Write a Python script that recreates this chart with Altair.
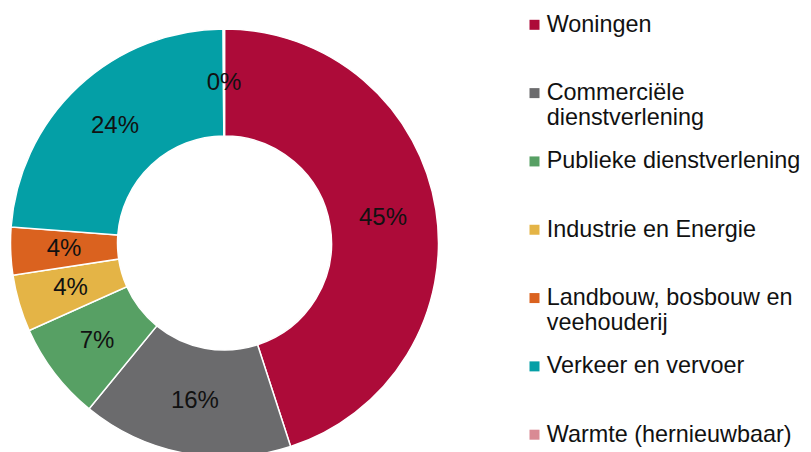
import altair as alt
import pandas as pd

categories = [
    "Woningen",
    "Commerciële dienstverlening",
    "Publieke dienstverlening",
    "Industrie en Energie",
    "Landbouw, bosbouw en veehouderij",
    "Verkeer en vervoer",
    "Warmte (hernieuwbaar)",
]
shares = [45.0, 15.9, 7.4, 4.3, 3.6, 23.7, 0.1]
colors = ["#AD0B39", "#6B6B6D", "#57A064", "#E4B446", "#DA621F", "#049FA6", "#D98A94"]
legend_line1 = [
    "Woningen",
    "Commerciële",
    "Publieke dienstverlening",
    "Industrie en Energie",
    "Landbouw, bosbouw en",
    "Verkeer en vervoer",
    "Warmte (hernieuwbaar)",
]
legend_line2 = ["", "dienstverlening", "", "", "veehouderij", "", ""]

df = pd.DataFrame({
    "cat": categories,
    "share": shares,
    "idx": list(range(len(categories))),
    "l1": legend_line1,
    "l2": legend_line2,
})
df["label"] = [f"{int(round(v))}%" for v in shares]

FONT = "Liberation Sans"
FS = 24
LFS = 23.4
CX, CY = 216.5, 235

color = alt.Color("cat:N", scale=alt.Scale(domain=categories, range=colors), legend=None)
theta = alt.Theta("share:Q", stack=True)
order = alt.Order("idx:Q", sort="ascending")

base = alt.Chart(df)

arcs = base.mark_arc(outerRadius=214, innerRadius=107, stroke="white", strokeWidth=1.5).encode(
    theta=theta, color=color, order=order, x=alt.value(CX), y=alt.value(CY)
)
labels = base.mark_text(radius=160.5, fontSize=FS, font=FONT, color="#111111").encode(
    theta=theta, order=order, text="label:N", x=alt.value(CX), y=alt.value(CY)
)

ypos = alt.Y(
    "cat:N",
    scale=alt.Scale(type="point", domain=categories, range=[16.8, 426.7], padding=0),
    axis=None,
)
squares = base.mark_square(size=100, opacity=1).encode(
    x=alt.value(526.5), y=ypos, color=color
)
text1 = base.mark_text(align="left", baseline="middle", fontSize=LFS, font=FONT, color="#111111").encode(
    x=alt.value(538.7), y=ypos, text="l1:N"
)
text2 = base.mark_text(align="left", baseline="middle", fontSize=LFS, font=FONT, color="#111111", dy=25).encode(
    x=alt.value(538.7), y=ypos, text="l2:N"
)

chart = (
    alt.layer(arcs, labels, squares, text1, text2)
    .properties(width=795, height=444, padding=0, autosize="none")
    .configure_view(stroke=None)
)

chart.save("out.html", embed_options={"renderer": "svg", "actions": False})
